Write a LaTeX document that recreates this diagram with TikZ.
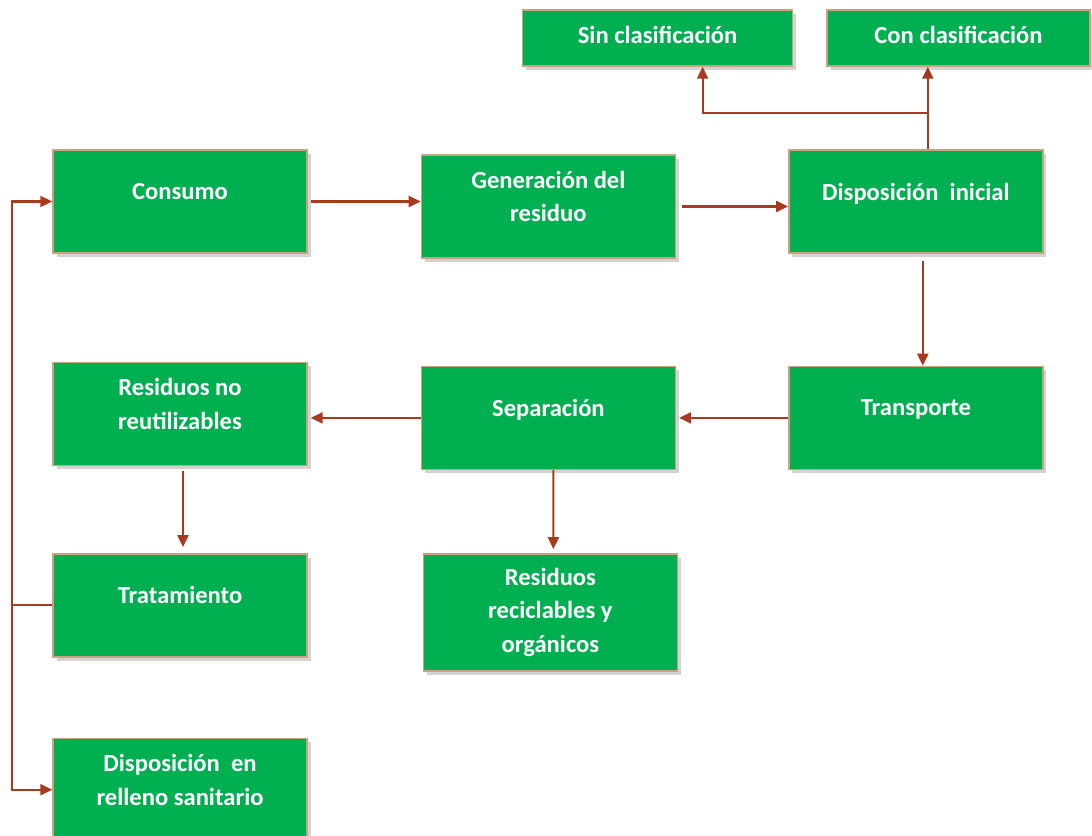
\documentclass[tikz,border=0pt]{standalone}
\usepackage{fontspec}
\setmainfont{Carlito}
\usepackage{xcolor}
\usepackage{tikz}
\usetikzlibrary{arrows.meta,positioning,shadows}

\definecolor{boxgreen}{HTML}{00B050}
\definecolor{boxline}{HTML}{C9A27E}
\definecolor{arrline}{HTML}{A63B1E}

\begin{document}
\begin{tikzpicture}[
  font=\fontsize{14}{19}\selectfont\bfseries,
  stage/.style={rectangle, draw=boxline, thick, fill=boxgreen, text=white,
                align=center, minimum height=2.06cm, minimum width=5.08cm,
                drop shadow={shadow xshift=0.07cm, shadow yshift=-0.08cm, opacity=0.35}},
  raised/.style={stage, execute at end node={\rule[-0.4cm]{0pt}{0pt}}},
  kind/.style={stage, minimum height=1.12cm, minimum width=5.3cm,
               execute at end node={\rule[-0.12cm]{0pt}{0pt}}},
  arr/.style={-{Triangle[length=2.4mm, width=2.2mm]}, line width=1.2pt, draw=arrline},
  wire/.style={line width=1.2pt, draw=arrline}
]
\useasboundingbox (0,0) rectangle (21.84,-16.72);

% fila superior
\node[raised] (consumo) at (3.6,-4.03) {Consumo};
\node[raised, right=2.26cm of consumo, yshift=-0.1cm] (generacion) {Generación del\\residuo};
\node[raised, right=2.24cm of generacion, yshift=0.1cm] (inicial) {Disposición~ inicial};
\node[kind, minimum width=5.26cm] (conclas) at (19.17,-0.76) {Con clasificación};
\node[kind, left=0.66cm of conclas, minimum width=5.4cm] (sinclas) {Sin clasificación};

% fila media
\node[raised, below=2.24cm of inicial] (transporte) {Transporte};
\node[raised, left=2.24cm of transporte] (separacion) {Separación};
\node[raised, left=2.26cm of separacion, yshift=0.08cm] (noreut) {Residuos no\\reutilizables};

% fila inferior
\node[raised, below=1.74cm of noreut] (tratamiento) {Tratamiento};
\node[stage, below=1.66cm of separacion, xshift=0.04cm, minimum height=2.34cm] (reciclables) {Residuos\\reciclables y\\orgánicos};
\node[raised, below=1.6cm of tratamiento] (relleno) {Disposición~ en\\relleno sanitario};

\coordinate (fork) at ([xshift=0.24cm, yshift=0.72cm]inicial.north);
\coordinate (bus) at (0.24,0);

\draw[arr] ([xshift=0.06cm]consumo.east) -- (consumo.east -| generacion.west);
\draw[arr] ([xshift=0.12cm]generacion.east) -- (generacion.east -| inicial.west);
\draw[wire] ([xshift=0.24cm]inicial.north) -- (fork);
\draw[arr] (fork) -- (fork |- conclas.south);
\draw[arr] (fork) -| ([xshift=0.9cm]sinclas.south);
\draw[arr] ([xshift=0.14cm, yshift=-0.14cm]inicial.south) -- ([xshift=0.14cm]transporte.north);
\draw[arr] (transporte.west) -- ([xshift=0.06cm]separacion.east);
\draw[arr] (separacion.west) -- ([xshift=0.06cm]separacion.west -| noreut.east);
\draw[arr] ([xshift=0.06cm, yshift=-0.1cm]noreut.south) -- ([xshift=0.06cm, yshift=0.12cm]tratamiento.north);
\draw[arr] ([xshift=0.1cm]separacion.south) -- ([xshift=0.06cm, yshift=0.08cm]reciclables.north);
\draw[wire] (tratamiento.west) -- (bus |- tratamiento.west);
\draw[arr] (bus |- tratamiento.west) |- (consumo.west);
\draw[arr] (bus |- tratamiento.west) |- (relleno.west);
\end{tikzpicture}
\end{document}
